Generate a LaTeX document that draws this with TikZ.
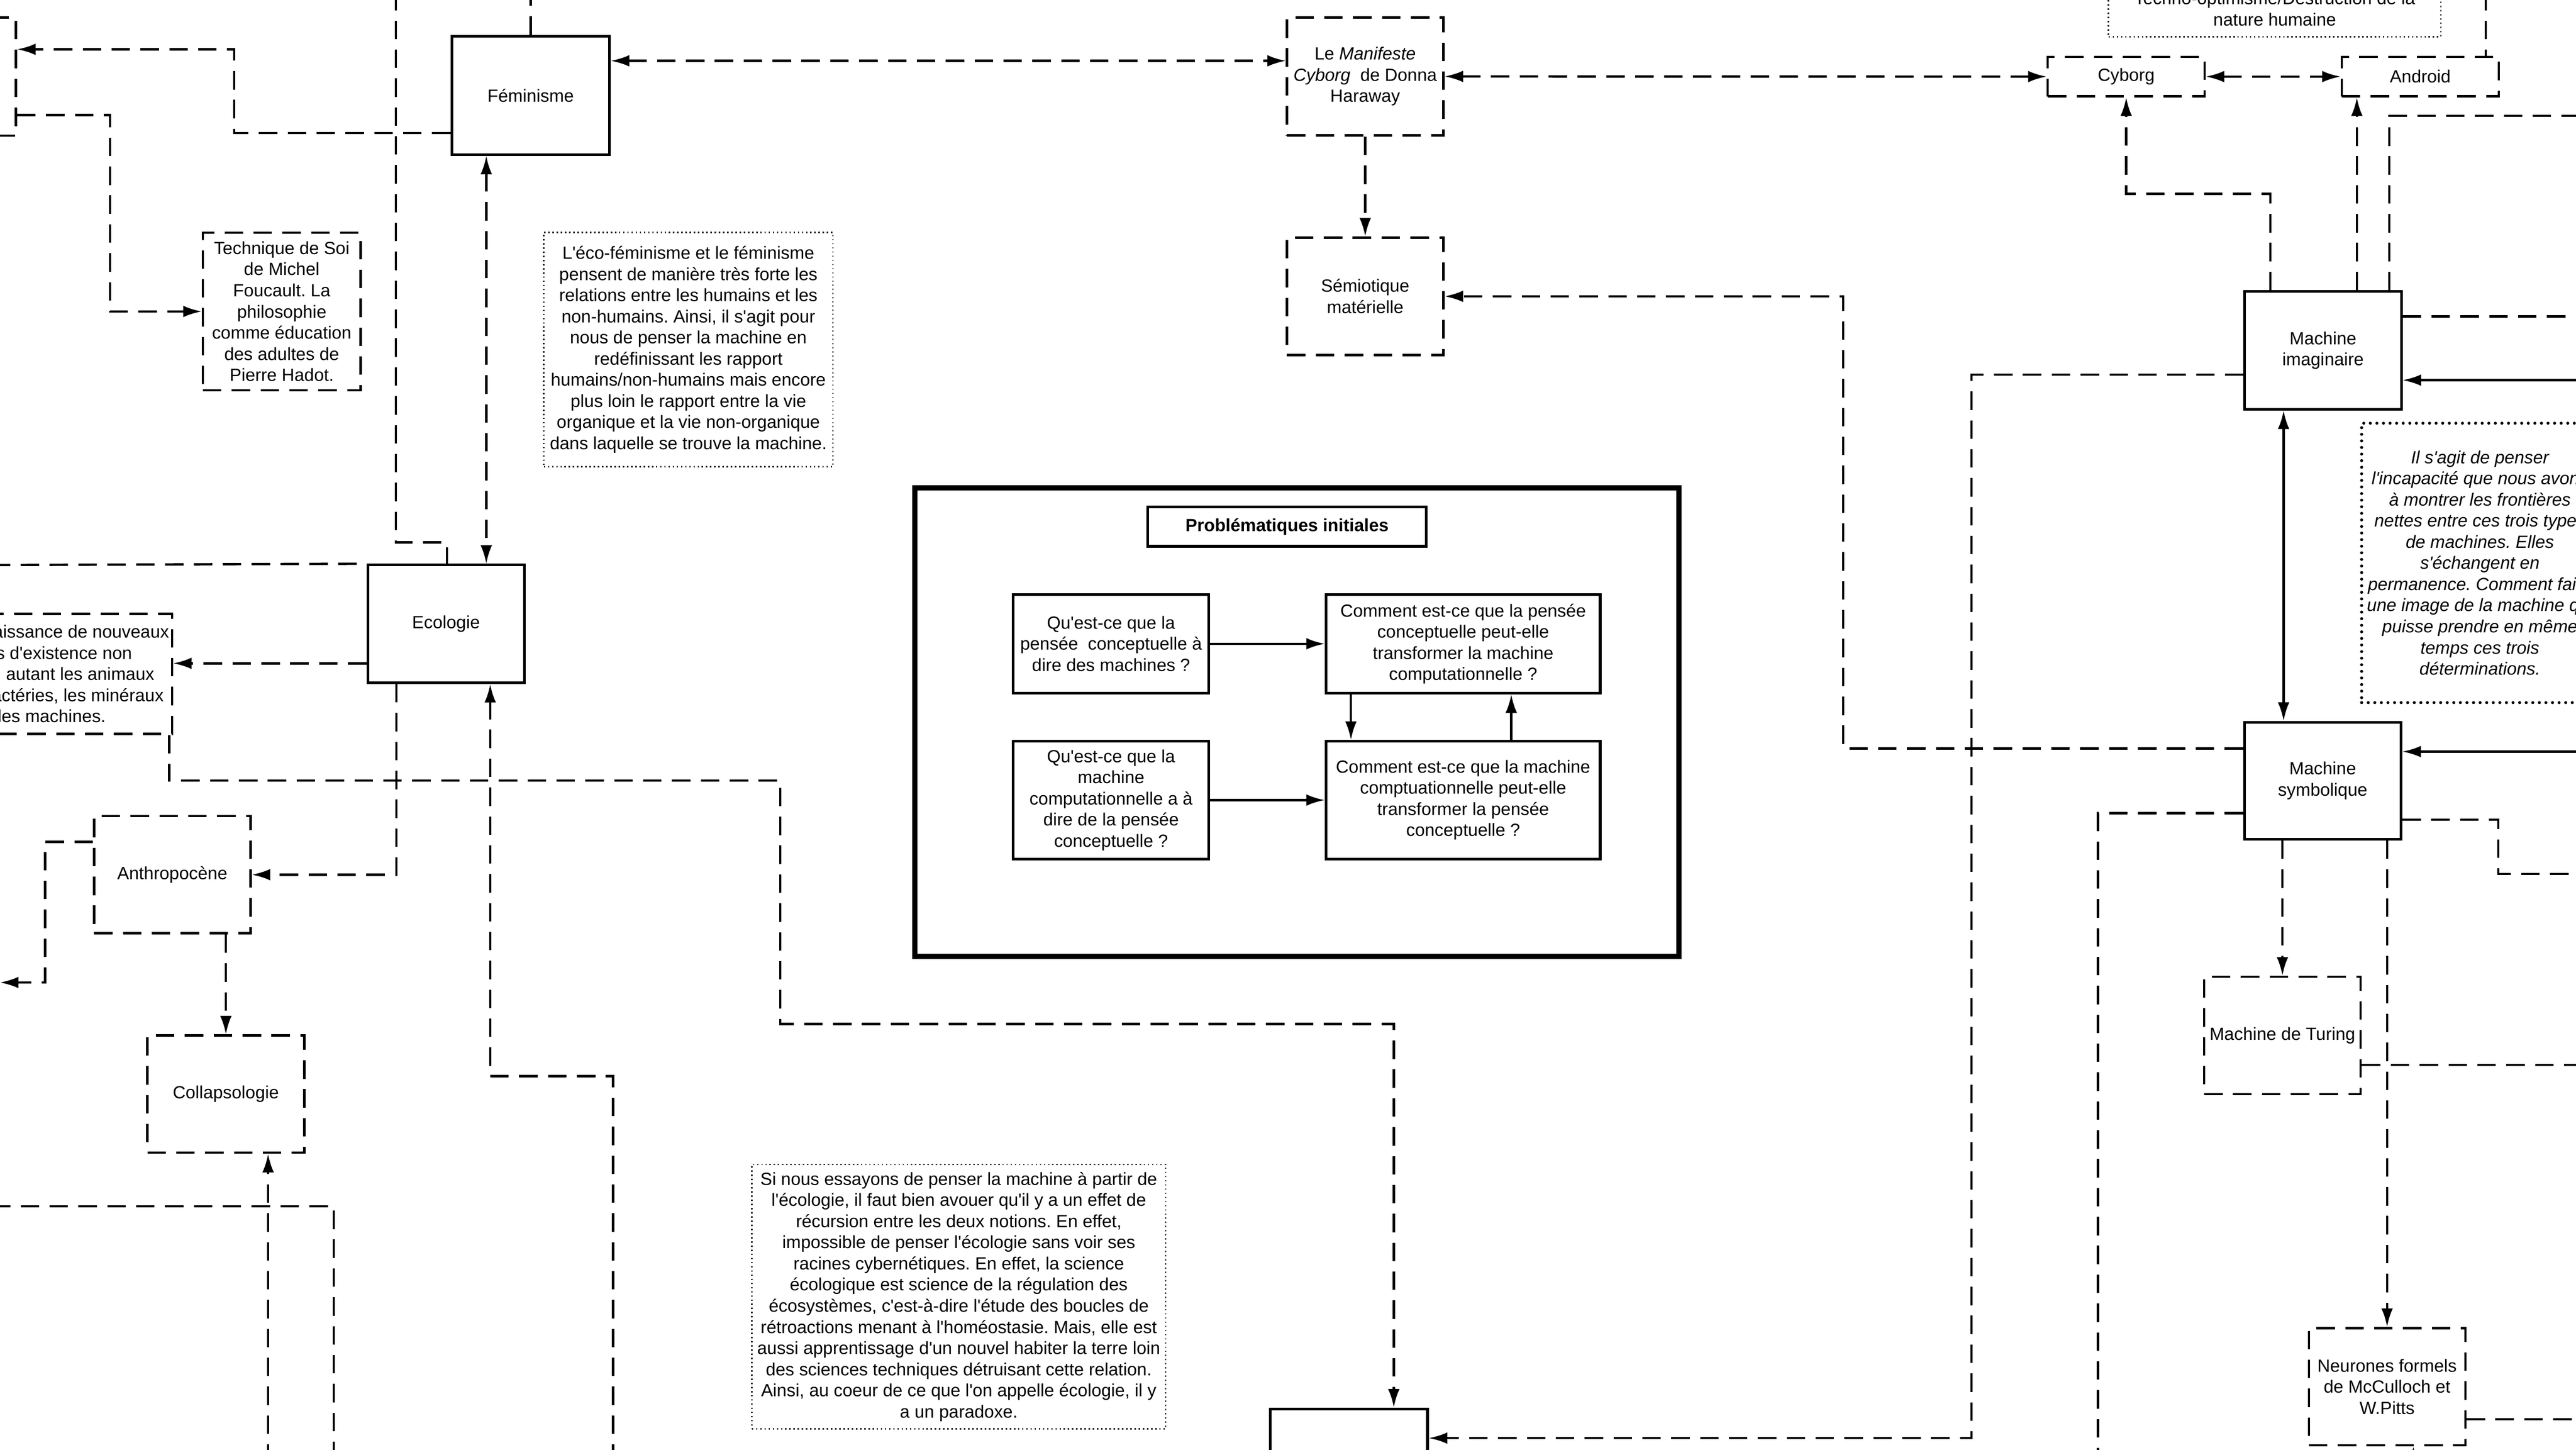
\documentclass[tikz,border=0pt]{standalone}
\usepackage{fontspec}
\setmainfont{Liberation Sans}[Ligatures=TeXOff]
\usetikzlibrary{arrows.meta,calc,positioning}
\frenchspacing

\begin{document}
\begin{tikzpicture}[x=0.05cm, y=-0.05cm,
    every node/.style={font=\fontsize{15.3}{18.3}\selectfont, align=center, inner sep=0pt},
    sz/.style 2 args={minimum width=#1*0.05cm, minimum height=#2*0.05cm},
    solidbox/.style={draw, line width=2.3pt},
    dashbox/.style={draw, line width=2pt, dash pattern=on 16pt off 9pt},
    notebox/.style={draw, line width=1.2pt, dash pattern=on 1.2pt off 2.4pt},
    dotbox/.style={draw, line width=2.6pt, line cap=round, dash pattern=on 0pt off 5.7pt},
    italique/.style={font=\fontsize{15.3}{18.3}\selectfont\itshape},
    dline/.style={line width=2pt, dash pattern=on 16pt off 9pt},
    sline/.style={line width=2pt},
    >={Latex[length=16pt,width=10pt]}]
    \path[use as bounding box, fill=white] (0,0) rectangle (1568,882);
    \clip (0,0) rectangle (1568,882);

    \node[dashbox, sz={99.5}{72}] (lefta) at (-40,46.6) {};
    \node[solidbox, sz={96}{72}] (fem) at (323,58) {Féminisme};
    \node[dashbox, sz={96}{96}] (soi) at (171.5,189.5) {Technique de Soi\\de Michel\\Foucault. La\\philosophie\\comme éducation\\des adultes de\\Pierre Hadot.};
    \node[notebox, sz={176}{142.5}] (ecofem) at (419,212.7) {L'éco-féminisme et le féminisme\\pensent de manière très forte les\\relations entre les humains et les\\non-humains. Ainsi, il s'agit pour\\nous de penser la machine en\\redéfinissant les rapport\\humains/non-humains mais encore\\plus loin le rapport entre la vie\\organique et la vie non-organique\\dans laquelle se trouve la machine.};
    \node[solidbox, sz={95.3}{71.6}] (ecol) at (271.5,379.6) {Ecologie};
    \node[dashbox, sz={158.4}{72.9}] (leftb) at (25.5,410) {La reconnaissance de nouveaux\\modes d'existence non\\humains, autant les animaux\\que les bactéries, les minéraux\\et les machines.};
    \node[dashbox, sz={95.3}{71.3}] (anthro) at (104.9,532.2) {Anthropocène};
    \node[dashbox, sz={95.6}{71.3}] (collap) at (137.5,665.7) {Collapsologie};

    \node[dashbox, sz={95.3}{71.8}] (manif) at (831,46.5) {Le \textit{Manifeste}\\\textit{Cyborg}\ \ de Donna\\Haraway};
    \node[dashbox, sz={95.3}{71.5}] (semio) at (831,180.3) {Sémiotique\\matérielle};
    \node[draw, line width=4.5pt, sz={465.2}{285.2}] (probl) at (789.4,439.3) {};
    \node[solidbox, sz={169.6}{24}] (titre) at (783.4,320.4) {\textbf{Problématiques initiales}};
    \node[solidbox, sz={119}{60}] (q1) at (676.3,391.7) {Qu'est-ce que la\\pensée\ \ conceptuelle à\\dire des machines ?};
    \node[solidbox, sz={166.8}{60}] (c1) at (890.6,391.7) {Comment est-ce que la pensée\\conceptuelle peut-elle\\transformer la machine\\computationnelle ?};
    \node[solidbox, sz={119}{71.6}] (q2) at (676.3,486.8) {Qu'est-ce que la\\machine\\computationnelle a à\\dire de la pensée\\conceptuelle ?};
    \node[solidbox, sz={166.8}{71.6}] (c2) at (890.6,486.8) {Comment est-ce que la machine\\comptuationnelle peut-elle\\transformer la pensée\\conceptuelle ?};
    \node[notebox, sz={251.8}{160.8}] (econote) at (583.6,789) {Si nous essayons de penser la machine à partir de\\l'écologie, il faut bien avouer qu'il y a un effet de\\récursion entre les deux notions. En effet,\\impossible de penser l'écologie sans voir ses\\racines cybernétiques. En effet, la science\\écologique est science de la régulation des\\écosystèmes, c'est-à-dire l'étude des boucles de\\rétroactions menant à l'homéostasie. Mais, elle est\\aussi apprentissage d'un nouvel habiter la terre loin\\des sciences techniques détruisant cette relation.\\Ainsi, au coeur de ce que l'on appelle écologie, il y\\a un paradoxe.};
    \node[solidbox, sz={95.8}{71.6}] (bas) at (821,893) {};

    \node[notebox, sz={202.3}{34}, anchor=south] (techno) at (1384.6,22.7) {Techno-optimisme/Destruction de la\\nature humaine};
    \node[dashbox, sz={95.5}{24}] (cyborg) at (1294.2,46.6) {Cyborg};
    \node[dashbox, sz={95.6}{24}] (android) at (1473.2,46.6) {Android};
    \node[solidbox, sz={95.3}{71.6}] (machimag) at (1414,213.2) {Machine\\imaginaire};
    \node[solidbox, sz={95.4}{71.2}] (machsym) at (1413.8,475) {Machine\\symbolique};
    \node[dotbox, italique, sz={144}{170}] (trois) at (1509.5,342.5) {Il s'agit de penser\\l'incapacité que nous avons\\à montrer les frontières\\nettes entre ces trois types\\de machines. Elles\\s'échangent en\\permanence. Comment faire\\une image de la machine qui\\puisse prendre en même\\temps ces trois\\déterminations.};
    \node[dashbox, sz={95.3}{71.4}] (turing) at (1389.3,630) {Machine de Turing};
    \node[dashbox, sz={95.3}{71.3}] (neur) at (1453,843.7) {Neurones formels\\de McCulloch et\\W.Pitts};

    \coordinate (haut1) at (323,-5);
    \coordinate (haut2) at (241,-5);
    \coordinate (haut3) at (1513,-5);
    \coordinate (droite1) at (1580,70.5);
    \coordinate (gauche1) at (-5,343.8);
    \coordinate (gauche2) at (0,597.8);
    \coordinate (gauche3) at (-5,733.9);
    \coordinate (bas1) at (1277,890);
    \coordinate (bas2) at (1469,890);
    \coordinate (bas3) at (373.2,890);
    \coordinate (bas4) at (163.2,890);
    \coordinate (bas5) at (203.2,890);
    \coordinate (k1) at (142.6,30);
    \coordinate (k2) at (272,330);
    \coordinate (k3) at (67,0);
    \coordinate (k4) at (1122,0);
    \coordinate (k5) at (1382,118);
    \coordinate (k6) at (1434.6,0);
    \coordinate (k7) at (1454.4,70.5);
    \coordinate (k8) at (1390,0);
    \coordinate (k9) at (1200,875);
    \coordinate (k10) at (1520.6,531.8);
    \coordinate (k11) at (103,475);
    \coordinate (k12) at (475,623);
    \coordinate (k13) at (848.4,623);
    \coordinate (k14) at (241.2,0);
    \coordinate (k15) at (298.4,654.8);
    \coordinate (k16) at (27.4,597.8);
    \coordinate (g296) at (296,0);
    \coordinate (g822) at (822.3,0);
    \coordinate (g920) at (919.9,0);
    \coordinate (f1) at ($(fem.east)+(0,-21)$);
    \coordinate (f2) at ($(fem.west)+(0,23)$);
    \coordinate (a1) at ($(lefta.east)+(0,23.4)$);
    \coordinate (a2) at ($(anthro.west)+(0,-19.9)$);
    \coordinate (e1) at ($(ecol.west)+(0,24)$);
    \coordinate (i1) at ($(machimag.east)+(0,-20.7)$);
    \coordinate (i2) at ($(machimag.east)+(0,18.1)$);
    \coordinate (i3) at ($(machimag.west)+(0,14.8)$);
    \coordinate (s1) at ($(machsym.west)+(0,-19.6)$);
    \coordinate (s2) at ($(machsym.east)+(0,-17.7)$);
    \coordinate (s3) at ($(machsym.east)+(0,23.7)$);
    \coordinate (s4) at ($(machsym.west)+(0,19.8)$);
    \coordinate (t1) at ($(turing.east)+(0,18)$);
    \coordinate (n1) at ($(neur.east)+(0,19.8)$);

    \draw[dline] (fem.north) -- (haut1);
    \draw[dline] (haut2) |- (k2) -- (k2 |- ecol.north);
    \draw[dline,<->] (fem.south -| g296) -- (ecol.north -| g296);
    \draw[dline,<->] (f1) -- (f1 -| manif.west);
    \draw[dline,->] (f2) -| (k1) -- (k1 -| lefta.east);
    \draw[dline,->] (a1) -| (k3 |- soi.west) -- (soi.west);
    \draw[dline,->] (manif.south) -- (semio.north);
    \draw[dline,<->] (manif.east) -- (cyborg.west);
    \draw[dline,<->] (cyborg.east) -- (android.west);
    \draw[dline,->] (s1) -| (k4 |- semio.east) -- (semio.east);
    \draw[dline,->] (machimag.north -| k5) |- (cyborg.south |- k5) -- (cyborg.south);
    \draw[dline,->] (machimag.north -| k6) -- (android.south -| k6);
    \draw[dline] (machimag.north -| k7) |- (droite1);
    \draw[dline] (haut3) -- (haut3 |- android.north);
    \draw[dline] (i1) -- (i1 -| droite1);
    \draw[sline,<-] (i2) -- (i2 -| droite1);
    \draw[sline,<->] (machimag.south -| k8) -- (machsym.north -| k8);
    \draw[dline,->] (i3) -| (k9) -- (k9 -| bas.east);
    \draw[sline,<-] (s2) -- (s2 -| droite1);
    \draw[dline] (s3) -| (k10) -- (k10 -| droite1);
    \draw[dline] (s4) -| (bas1);
    \draw[dline,->] (machsym.south -| turing.north) -- (turing.north);
    \draw[dline,->] (machsym.south -| neur.north) -- (neur.north);
    \draw[dline] (t1) -- (t1 -| droite1);
    \draw[dline] (n1) -- (n1 -| droite1);
    \draw[dline,->] (bas2) -- (bas2 |- neur.south);
    \draw[dline,->] (e1) -- (e1 -| leftb.east);
    \draw[dline] (gauche1) -- (ecol.north west);
    \draw[dline,->] (leftb.south -| k11) -- (k11) -| (k12) -- (k13) -- (k13 |- bas.north);
    \draw[dline,->] (ecol.south -| k14) |- (anthro.east);
    \draw[dline,->] (bas3) |- (k15) -- (k15 |- ecol.south);
    \draw[dline,->] (a2) -| (k16) -- (gauche2);
    \draw[dline,->] (anthro.south -| collap.north) -- (collap.north);
    \draw[dline,->] (bas4) -- (bas4 |- collap.south);
    \draw[dline] (gauche3) -| (bas5);
    \draw[sline,->] (q1) -- (c1);
    \draw[sline,->] (q2) -- (c2);
    \draw[sline,->] (c1.south -| g822) -- (c2.north -| g822);
    \draw[sline,->] (c2.north -| g920) -- (c1.south -| g920);
\end{tikzpicture}
\end{document}
